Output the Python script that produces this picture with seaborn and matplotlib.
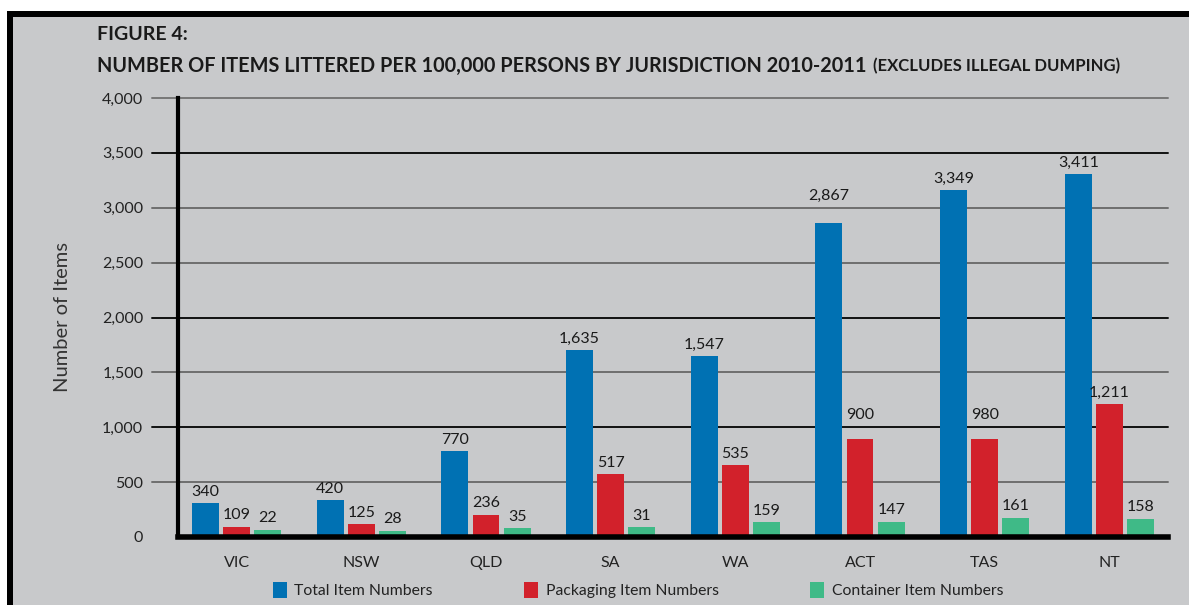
import matplotlib
matplotlib.use("Agg")
import matplotlib.pyplot as plt
from matplotlib.patches import Rectangle, Patch
import seaborn as sns
import pandas as pd

categories = ["VIC", "NSW", "QLD", "SA", "WA", "ACT", "TAS", "NT"]
series_names = ["Total Item Numbers", "Packaging Item Numbers", "Container Item Numbers"]
# printed value labels
total_labels = [340, 420, 770, 1635, 1547, 2867, 3349, 3411]
packaging_labels = [109, 125, 236, 517, 535, 900, 980, 1211]
container_labels = [22, 28, 35, 31, 159, 147, 161, 158]
# bar heights as drawn in the picture
total_heights = [307, 338, 780, 1706, 1651, 2861, 3160, 3303]
packaging_heights = [95, 114, 205, 575, 657, 894, 894, 1210]
container_heights = [68, 59, 84, 89, 135, 141, 177, 168]
y_ticks = [0, 500, 1000, 1500, 2000, 2500, 3000, 3500, 4000]

colors = ["#0071b3", "#d2212b", "#3fba87"]
BG = "#c8c9cb"

sns.set_theme(style="white")
plt.rcParams["font.family"] = ["Lato", "DejaVu Sans"]

rows = []
for name, hs in zip(series_names, [total_heights, packaging_heights, container_heights]):
    for c, h in zip(categories, hs):
        rows.append({"Jurisdiction": c, "Series": name, "Items": h})
df = pd.DataFrame(rows)

W, H = 1189, 605
AX_H_PX = 439
YMAX = 4000
fig = plt.figure(figsize=(W / 100, H / 100), dpi=100)
fig.patch.set_facecolor("white")
# grey panel + black frame (top and left)
fig.patches.append(Rectangle((7 / W, 0), 1, 1 - 11 / H, transform=fig.transFigure,
                             facecolor=BG, edgecolor="none", zorder=-3))
fig.patches.append(Rectangle((7 / W, 1 - 17 / H), 1, 6 / H, transform=fig.transFigure,
                             facecolor="black", edgecolor="none", zorder=-2))
fig.patches.append(Rectangle((7 / W, 0), 6 / W, 1 - 11 / H, transform=fig.transFigure,
                             facecolor="black", edgecolor="none", zorder=-2))

ax = fig.add_axes([178 / W, 68 / H, 990 / W, AX_H_PX / H])
ax.set_facecolor("none")

sns.barplot(data=df, x="Jurisdiction", y="Items", hue="Series", hue_order=series_names,
            order=categories, palette=colors, width=0.75, gap=0.14, saturation=1,
            legend=False, ax=ax, zorder=3, edgecolor="none")

px_per_unit = AX_H_PX / YMAX
for cont, labs in zip(ax.containers, [total_labels, packaging_labels, container_labels]):
    anns = ax.bar_label(cont, labels=[f"{v:,}" for v in labs], padding=3, fontsize=11.5,
                        color="#1a1a1a", zorder=4)
    # lift labels that would sit across a gridline so they rest just above it
    for bar, ann in zip(cont, anns):
        h = bar.get_height()
        for g in y_ticks:
            if h < g < h + 150:
                ann.xyann = (0, ((g - h) * px_per_unit + 5) / 1.389)

ax.set_ylim(0, YMAX)
ax.set_xlim(-0.47, 7.47)
ax.set_yticks(y_ticks)
ax.set_yticklabels([f"{v:,}" for v in y_ticks], fontsize=11.5, color="#222222")
ax.tick_params(axis="y", length=0, pad=25)
ax.tick_params(axis="x", length=0, pad=14, labelsize=11.5, labelcolor="#222222")

grid_colors = {500: "#6e6e6e", 1000: "#111111", 1500: "#6e6e6e", 2000: "#111111",
               2500: "#6e6e6e", 3000: "#6e6e6e", 3500: "#111111", 4000: "#777777"}
for v, col in grid_colors.items():
    ax.axhline(v, xmin=-26 / 990, xmax=1, color=col, lw=1.4, clip_on=False, zorder=2)

for s in ["top", "right"]:
    ax.spines[s].set_visible(False)
ax.spines["left"].set_color("black")
ax.spines["left"].set_linewidth(3)
ax.spines["left"].set_zorder(5)
ax.spines["bottom"].set_color("black")
ax.spines["bottom"].set_linewidth(4)
ax.spines["bottom"].set_zorder(5)

ax.set_xlabel("")
ax.set_ylabel("Number of Items", fontsize=14.5, color="#333333", labelpad=22)

fig.text(97 / W, 1 - 35 / H, "FIGURE 4:", fontsize=14, fontweight="bold",
         color="#1a1a1a", va="center", ha="left")
fig.text(97 / W, 1 - 66 / H, "NUMBER OF ITEMS LITTERED PER 100,000 PERSONS BY JURISDICTION 2010-2011",
         fontsize=14.3, fontweight="bold", color="#1a1a1a", va="center", ha="left")
fig.text(873 / W, 1 - 66 / H, "(EXCLUDES ILLEGAL DUMPING)", fontsize=12, fontweight="bold",
         color="#1a1a1a", va="center", ha="left")

handles = [Patch(facecolor=c, edgecolor="none", label=n) for c, n in zip(colors, series_names)]
fig.legend(handles=handles, loc="center", bbox_to_anchor=(638 / W, 1 - 590 / H), ncol=3,
           frameon=False, fontsize=11.3, handlelength=0.9, handleheight=1.25,
           handletextpad=0.5, columnspacing=5.8, labelcolor="#222222")

fig.savefig("out.png", dpi=100, facecolor=fig.get_facecolor())
